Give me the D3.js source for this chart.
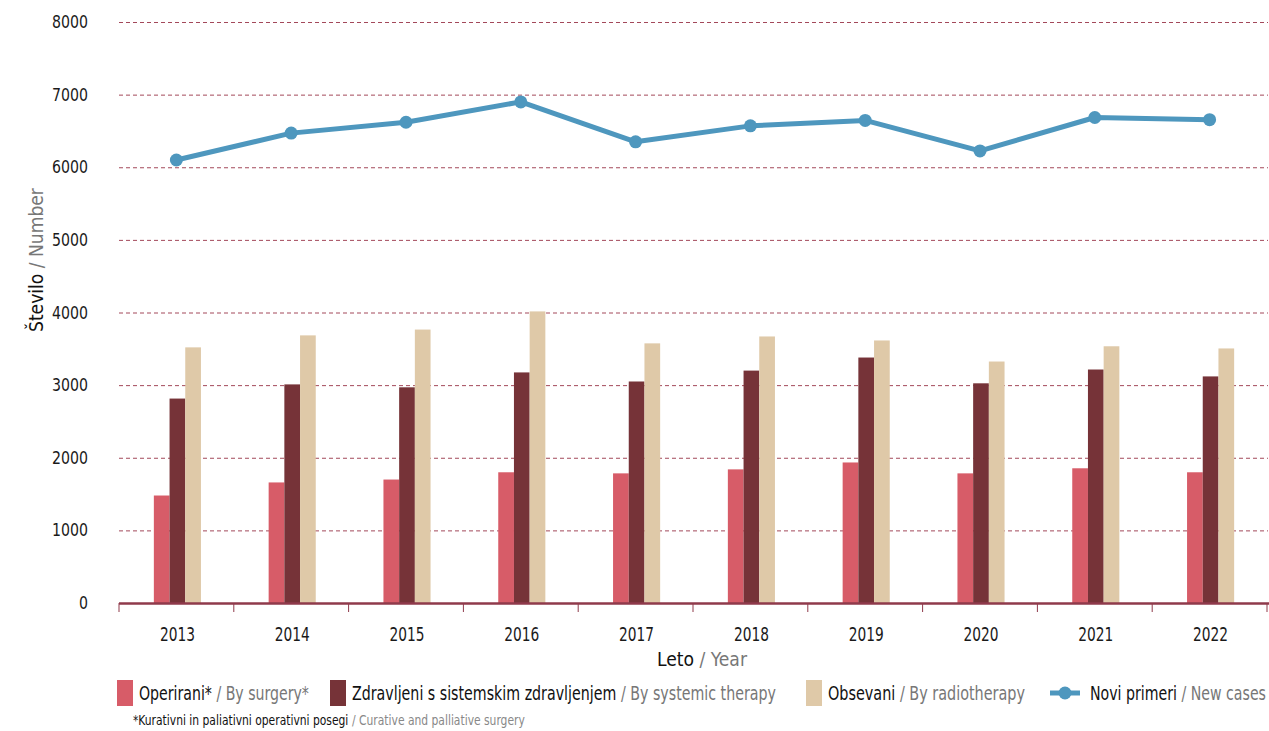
<!DOCTYPE html>
<html><head><meta charset="utf-8">
<script src="https://cdn.jsdelivr.net/npm/d3@7"></script>
<style>
body{margin:0;background:#fff;}
text{font-family:"DejaVu Sans Condensed","DejaVu Sans",sans-serif;font-stretch:condensed;white-space:pre;}
</style></head>
<body><svg id="c" width="1269" height="731"></svg>
<script>
const years = ["2013","2014","2015","2016","2017","2018","2019","2020","2021","2022"];
const surgery = [1480,1660,1700,1800,1785,1840,1935,1785,1855,1800];
const systemic = [2815,3010,2970,3175,3050,3200,3380,3025,3215,3120];
const radiotherapy = [3520,3685,3765,4015,3575,3670,3615,3325,3535,3505];
const newCases = [6100,6470,6620,6900,6350,6570,6645,6225,6685,6655];
const yTicks = [0,1000,2000,3000,4000,5000,6000,7000,8000];

const svg = d3.select("#c");
const L=119, R=1267, T=22, B=603;
const x = d3.scaleBand().domain(years).range([L,R]);
const y = d3.scaleLinear().domain([0,8000]).range([B,T]);
const barSeries = [
  {vals:surgery, color:"#d75c68"},
  {vals:systemic, color:"#763338"},
  {vals:radiotherapy, color:"#dfc9a8"}
];
const bw = 15.7;
const xs = d3.scaleBand().domain([0,1,2]).range([-bw*1.5+1, bw*1.5+1]);

// text horizontally squeezed (via transform) to a target width
function squeezed(parent, x0, y0, size, str, w, anchor, fill, weight){
  const g = parent.append("g");
  const t = g.append("text").attr("x",0).attr("y",0).attr("font-size",size)
    .attr("fill",fill||"#111").attr("font-weight",weight||"normal").text(str);
  const nw = t.node().getComputedTextLength();
  const k = w/nw;
  const off = anchor==="end" ? -w : anchor==="middle" ? -w/2 : 0;
  g.attr("transform",`translate(${x0+off},${y0}) scale(${k},1)`);
  return g;
}
function twoPart(parent, x0, y0, size, a, b, totalW, grayCol){
  const probe = parent.append("text").attr("font-size",size);
  const wa = probe.text(a).node().getComputedTextLength();
  const wb = probe.text("\u00a0/ " + b).node().getComputedTextLength();
  probe.remove();
  const k = totalW/(wa+wb);
  squeezed(parent, x0, y0, size, a, wa*k, "start", "#111");
  squeezed(parent, x0+wa*k, y0, size, "\u00a0/ " + b, wb*k, "start", grayCol||"#777");
}

// grid
svg.append("g").selectAll("line").data(yTicks.filter(d=>d>0)).join("line")
  .attr("x1",L).attr("x2",1268).attr("y1",d=>y(d)+0.5).attr("y2",d=>y(d)+0.5)
  .attr("stroke","#a3485a").attr("stroke-width",1).attr("stroke-dasharray","4,3");

// y labels
const yl = svg.append("g");
yTicks.forEach(d=>squeezed(yl, 88, y(d)+6, 17, String(d), String(d).length*9, "end", "#1a1a1a", "500"));

// bars
barSeries.forEach((s,i)=>{
  svg.append("g").selectAll("rect").data(years).join("rect")
    .attr("x",(d)=>x(d)+x.bandwidth()/2+xs(i))
    .attr("width",xs.bandwidth())
    .attr("y",(d,j)=>y(s.vals[j]))
    .attr("height",(d,j)=>B-y(s.vals[j]))
    .attr("fill",s.color);
});

// baseline & ticks
const bounds = years.map(d=>x(d)).concat([R]);
svg.append("g").selectAll("line").data(bounds).join("line")
  .attr("x1",d=>d).attr("x2",d=>d).attr("y1",B).attr("y2",B+9)
  .attr("stroke","#8f3a4b").attr("stroke-width",1);
svg.append("line").attr("x1",L).attr("x2",R+2).attr("y1",B+0.5).attr("y2",B+0.5)
  .attr("stroke","#8f3a4b").attr("stroke-width",2.5);

// x labels
const xl = svg.append("g");
years.forEach(d=>squeezed(xl, x(d)+x.bandwidth()/2+1, 641, 19, d, 35, "middle", "#1a1a1a", "500"));

// line
const lineGen = d3.line().x((d,i)=>x(years[i])+x.bandwidth()/2).y(d=>y(d));
svg.append("path").datum(newCases).attr("d",lineGen).attr("fill","none")
  .attr("stroke","#4e97be").attr("stroke-width",5).attr("stroke-linejoin","round");
svg.append("g").selectAll("circle").data(newCases).join("circle")
  .attr("cx",(d,i)=>x(years[i])+x.bandwidth()/2).attr("cy",d=>y(d)).attr("r",6.5)
  .attr("fill","#4e97be");

// axis titles
const ytg = svg.append("g").attr("transform","translate(43,260) rotate(-90)");
twoPart(ytg, -72, 0, 19, "Število", "Number", 144);
twoPart(svg, 657, 666, 19, "Leto", "Year", 90);

// legend
const legend = [
  {type:"rect",color:"#d75c68",x:117,a:"Operirani*",b:"By surgery*",w:170},
  {type:"rect",color:"#763338",x:330,a:"Zdravljeni s sistemskim zdravljenjem",b:"By systemic therapy",w:424},
  {type:"rect",color:"#dfc9a8",x:806,a:"Obsevani",b:"By radiotherapy",w:197},
  {type:"line",color:"#4e97be",x:1050,a:"Novi primeri",b:"New cases",w:176}
];
legend.forEach(l=>{
  let tx;
  if(l.type==="rect"){
    svg.append("rect").attr("x",l.x).attr("y",680).attr("width",16).attr("height",26).attr("fill",l.color);
    tx = l.x+22;
  } else {
    svg.append("line").attr("x1",l.x).attr("x2",l.x+30).attr("y1",693).attr("y2",693)
      .attr("stroke",l.color).attr("stroke-width",5);
    svg.append("circle").attr("cx",l.x+15).attr("cy",693).attr("r",6.5).attr("fill",l.color);
    tx = 1090;
  }
  twoPart(svg, tx, 700, 20, l.a, l.b, l.w);
});
twoPart(svg, 133, 725, 14, "*Kurativni in paliativni operativni posegi", "Curative and palliative surgery", 392, "#888");
</script></body></html>
